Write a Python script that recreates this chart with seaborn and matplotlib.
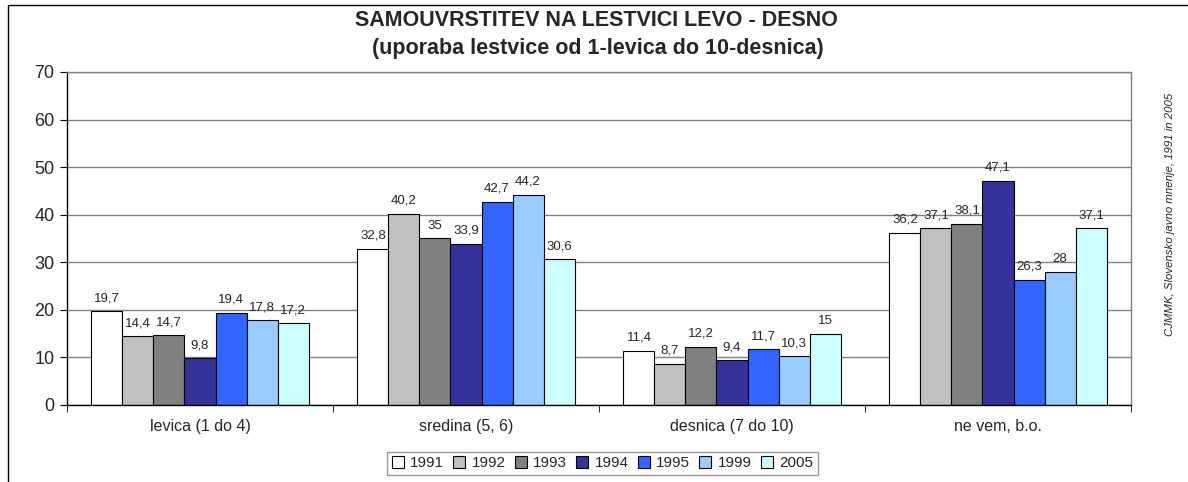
import seaborn as sns
import matplotlib.pyplot as plt
import pandas as pd
from matplotlib.patches import Rectangle

categories = ['levica (1 do 4)', 'sredina (5, 6)', 'desnica (7 do 10)', 'ne vem, b.o.']
years = ['1991', '1992', '1993', '1994', '1995', '1999', '2005']
levica = [19.7, 14.4, 14.7, 9.8, 19.4, 17.8, 17.2]
sredina = [32.8, 40.2, 35, 33.9, 42.7, 44.2, 30.6]
desnica = [11.4, 8.7, 12.2, 9.4, 11.7, 10.3, 15]
ne_vem = [36.2, 37.1, 38.1, 47.1, 26.3, 28, 37.1]
colors = ['#FFFFFF', '#C0C0C0', '#808080', '#333399', '#3366FF', '#99CCFF', '#CCFFFF']

rows = []
for cat, vals in zip(categories, [levica, sredina, desnica, ne_vem]):
    for yr, v in zip(years, vals):
        rows.append({'kategorija': cat, 'leto': yr, 'odstotek': v})
df = pd.DataFrame(rows)

sns.set_style('white')
plt.rcParams['font.family'] = ['Liberation Sans', 'DejaVu Sans']

fig = plt.figure(figsize=(11.88, 4.82), dpi=100)
ax = fig.add_axes([67 / 1188, 0.1598, 1064 / 1188, 0.6909])

sns.barplot(data=df, x='kategorija', y='odstotek', hue='leto', palette=colors, saturation=1,
            edgecolor='black', linewidth=0.8, width=0.816, ax=ax, legend=True, errorbar=None)

for c in ax.containers:
    ax.bar_label(c, fmt=lambda v: f'{v:g}'.replace('.', ','), padding=5, fontsize=9.5)

ax.set_ylim(0, 70)
ax.set_xlim(-0.5, 3.5)
ax.set_yticks(range(0, 71, 10))
ax.yaxis.grid(True, color='#808080', linewidth=1)
ax.set_axisbelow(True)
ax.set_xlabel('')
ax.set_ylabel('')
ax.tick_params(axis='y', labelsize=13, length=5, direction='out', left=True, color='black', pad=4)
ax.tick_params(axis='x', labelsize=11.5, length=0, pad=10)
# category separator ticks
ax.set_xticks([-0.5, 0.5, 1.5, 2.5, 3.5], minor=True)
ax.tick_params(axis='x', which='minor', length=5, bottom=True, color='black')
for s in ['top', 'right']:
    ax.spines[s].set_color('#808080')
    ax.spines[s].set_linewidth(1)
for s in ['left', 'bottom']:
    ax.spines[s].set_color('black')
    ax.spines[s].set_linewidth(1)

ax.legend(loc='center', bbox_to_anchor=(0.507, 0.039), bbox_transform=fig.transFigure,
          ncol=7, fontsize=11, frameon=True, fancybox=False, edgecolor='#808080',
          handlelength=0.8, handleheight=0.8, handletextpad=0.4, columnspacing=0.6,
          borderpad=0.3)

fig.text(0.502, 0.958, 'SAMOUVRSTITEV NA LESTVICI LEVO - DESNO', ha='center', va='center',
         fontsize=15.5, fontweight='bold')
fig.text(0.503, 0.900, '(uporaba lestvice od 1-levica do 10-desnica)', ha='center', va='center',
         fontsize=15.5, fontweight='bold')
fig.text(0.985, 0.555, 'CJMMK, Slovensko javno mnenje, 1991 in 2005', rotation=90,
         ha='center', va='center', fontsize=8.2, style='italic')

fig.patches.append(Rectangle((8 / 1188, -0.1), 1.2, 1.1 - 5 / 482, transform=fig.transFigure,
                             fill=False, edgecolor='black', linewidth=1, zorder=10))

fig.savefig('out.png', dpi=100)
